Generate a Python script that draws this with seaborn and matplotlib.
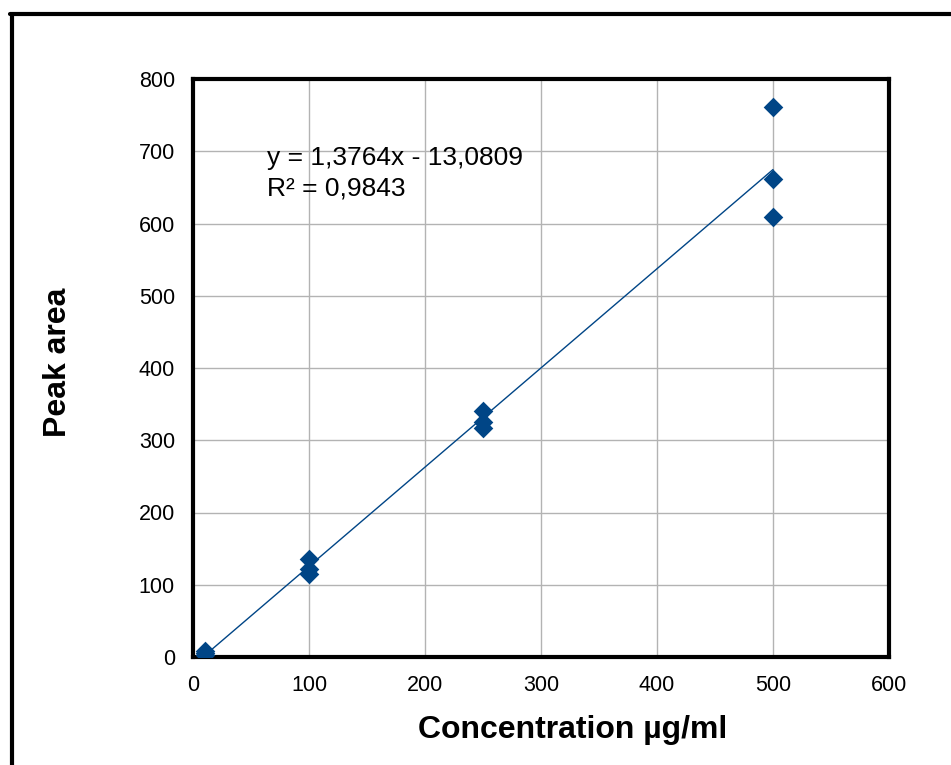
import matplotlib
matplotlib.use("Agg")
import matplotlib.pyplot as plt
from matplotlib.lines import Line2D
import numpy as np
import pandas as pd
import seaborn as sns

# ── Data ──────────────────────────────────────────────────────────────────────
concentration = [10, 10, 10, 100, 100, 100, 250, 250, 250, 500, 500, 500]
peak_area     = [8, 5, 3, 135, 122, 115, 340, 325, 317, 761, 661, 609]
x_ticks = [0, 100, 200, 300, 400, 500, 600]
y_ticks = [0, 100, 200, 300, 400, 500, 600, 700, 800]
equation_text = "y = 1,3764x - 13,0809"
r2_text       = "R² = 0,9843"

BLUE = "#004586"

sns.set_theme(style="whitegrid")
plt.rcParams["font.family"] = ["Liberation Sans", "DejaVu Sans"]
plt.rcParams["text.color"] = "black"
plt.rcParams["axes.labelcolor"] = "black"

df = pd.DataFrame({"conc": concentration, "area": peak_area})

fig = plt.figure(figsize=(9.51, 7.65), dpi=100)
ax = fig.add_axes([193 / 951, 1 - 657 / 765, 696 / 951, 578 / 765])

sns.regplot(
    data=df, x="conc", y="area", ax=ax, ci=None, marker="D", color=BLUE,
    scatter_kws={"s": 100, "alpha": 1, "zorder": 3, "linewidths": 0},
    line_kws={"lw": 1.0, "zorder": 2},
)

ax.set_xlim(0, 600)
ax.set_ylim(0, 800)
ax.set_xticks(x_ticks)
ax.set_yticks(y_ticks)
ax.grid(True, color="#b3b3b3", lw=1)
ax.set_axisbelow(True)
ax.tick_params(axis="both", which="both", labelsize=15.5, length=5, width=1,
               direction="out", pad=8, labelcolor="black", color="#b3b3b3")
for sp in ax.spines.values():
    sp.set_color("black")
    sp.set_linewidth(3)

ax.set_xlabel("Concentration µg/ml", fontsize=23, fontweight="bold", color="black")
ax.set_ylabel("Peak area", fontsize=23, fontweight="bold", color="black")
ax.xaxis.set_label_coords(0.545, -0.1)
ax.yaxis.set_label_coords(-0.173, 0.51)

ax.text(64, 681, equation_text, fontsize=19, ha="left", va="baseline", color="black")
ax.text(64, 639, r2_text, fontsize=19, ha="left", va="baseline", color="black")

# outer chart frame (left and top edges visible)
fig.add_artist(Line2D([11.5 / 951, 11.5 / 951], [0, 1 - 14 / 765],
                      color="black", lw=3, transform=fig.transFigure))
fig.add_artist(Line2D([10 / 951, 1], [1 - 14 / 765, 1 - 14 / 765],
                      color="black", lw=3, transform=fig.transFigure))

fig.savefig("out.png", dpi=100, facecolor="white")
